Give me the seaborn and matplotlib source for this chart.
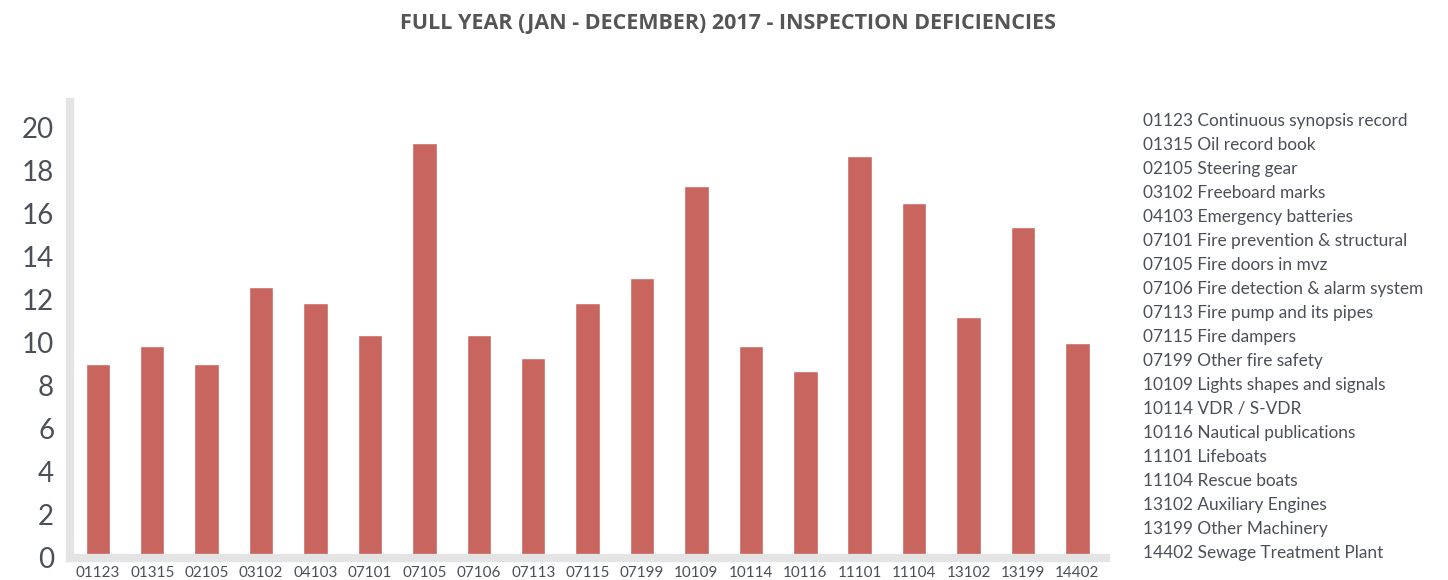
import pandas as pd
import matplotlib.pyplot as plt
import seaborn as sns

# data
codes = ['01123', '01315', '02105', '03102', '04103', '07101', '07105', '07106',
         '07113', '07115', '07199', '10109', '10114', '10116', '11101', '11104',
         '13102', '13199', '14402']
descriptions = ['Continuous synopsis record', 'Oil record book', 'Steering gear',
                'Freeboard marks', 'Emergency batteries', 'Fire prevention & structural',
                'Fire doors in mvz', 'Fire detection & alarm system',
                'Fire pump and its pipes', 'Fire dampers', 'Other fire safety',
                'Lights shapes and signals', 'VDR / S-VDR', 'Nautical publications',
                'Lifeboats', 'Rescue boats', 'Auxiliary Engines', 'Other Machinery',
                'Sewage Treatment Plant']
deficiencies = [9.0, 9.85, 9.0, 12.6, 11.85, 10.35, 19.3, 10.35, 9.3, 11.85,
                13.0, 17.3, 9.85, 8.7, 18.7, 16.5, 11.2, 15.4, 10.0]
y_ticks = list(range(0, 21, 2))

title = 'FULL YEAR (JAN - DECEMBER) 2017 - INSPECTION DEFICIENCIES'
text_color = '#4b4f58'
bar_color = '#c8655e'
spine_color = '#e3e4e3'

sns.set_theme(style='white')
plt.rcParams['font.family'] = ['Lato', 'DejaVu Sans']

df = pd.DataFrame({'code': codes, 'value': deficiencies})

fig = plt.figure(figsize=(14.48, 5.8), dpi=100)
ax = fig.add_axes([0.048, 0.038, 0.716, 0.786])

sns.barplot(data=df, x='code', y='value', color=bar_color, saturation=1,
            width=0.45, ax=ax)

ax.set_xlim(-0.52, 18.53)
ax.set_ylim(0, 21.2)
ax.set_yticks(y_ticks)
ax.set_xlabel('')
ax.set_ylabel('')

for side in ['top', 'right']:
    ax.spines[side].set_visible(False)
for side in ['left', 'bottom']:
    ax.spines[side].set_color(spine_color)
    ax.spines[side].set_linewidth(6)

ax.tick_params(axis='y', length=0, pad=11, labelsize=20, labelcolor=text_color)
ax.tick_params(axis='x', length=0, pad=6, labelsize=11, labelcolor=text_color)

fig.text(0.503, 0.960, title, ha='center', va='center', fontsize=15.5,
         fontweight='bold', color='#555555', family=['Open Sans', 'DejaVu Sans'])

# legend-like list on the right
for i, (c, d) in enumerate(zip(codes, descriptions)):
    fig.text(1143 / 1448, 1 - (121 + 24 * i) / 580, f'{c} {d}', ha='left',
             va='center', fontsize=12.4, color=text_color)

fig.savefig('out.png', dpi=100)
